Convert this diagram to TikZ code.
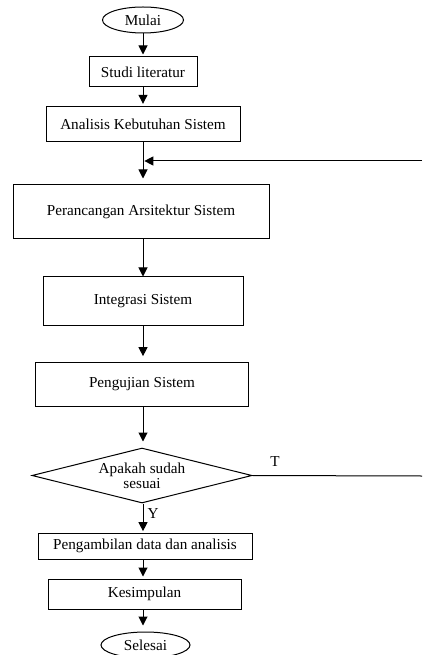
\documentclass[tikz,border=0pt]{standalone}
\usepackage{fontspec}
\setmainfont{Liberation Serif}
\usetikzlibrary{arrows.meta,shapes.geometric}

\tikzset{every picture/.style={line width=0.75pt}}

\begin{document}
\begin{tikzpicture}[x=0.75pt,y=0.75pt,yscale=-1,xscale=1,
	font=\fontsize{11.4}{11.25}\selectfont,
	proses/.style={draw, rectangle, inner sep=0pt, align=center},
	terminal/.style={draw, ellipse, inner sep=0pt},
	keputusan/.style={draw, diamond, aspect=4, inner sep=0pt, align=center},
	panah/.style={-{Triangle[width=6.75pt,length=6.75pt]}}]
	%uncomment if require: \path (0,655); %set diagram left start at 0, and has height of 655
	\useasboundingbox (0,0) rectangle (422,655);
	
	%Flowchart: Terminator [id:mulai] 
	\node [terminal, minimum width=60.75pt, minimum height=19.5pt] (mulai) at (143,20) {Mulai};
	%Flowchart: Process [id:studi] 
	\node [proses, minimum width=81pt, minimum height=22.5pt] (studi) at (143,72) {Studi literatur};
	%Flowchart: Process [id:analisis] 
	\node [proses, minimum width=145.5pt, minimum height=26.25pt] (analisis) at (143,124.5) {Analisis Kebutuhan Sistem};
	%Flowchart: Process [id:perancangan] 
	\node [proses, minimum width=192pt, minimum height=40.5pt] (perancangan) at (141,212) {Perancangan Arsitektur Sistem};
	%Flowchart: Process [id:integrasi] 
	\node [proses, minimum width=150pt, minimum height=36pt] (integrasi) at (143,301) {Integrasi Sistem};
	%Flowchart: Process [id:pengujian] 
	\node [proses, minimum width=159.75pt, minimum height=33pt] (pengujian) at (142,384) {Pengujian Sistem};
	%Flowchart: Decision [id:sesuai] 
	\node [keputusan, minimum width=165pt, minimum height=41.25pt] (sesuai) at (142,475.5) {Apakah sudah\\sesuai};
	%Flowchart: Process [id:pengambilan] 
	\node [proses, minimum width=160.5pt, minimum height=19.5pt] (pengambilan) at (145,546) {Pengambilan data dan analisis};
	%Flowchart: Process [id:kesimpulan] 
	\node [proses, minimum width=144.75pt, minimum height=22.5pt] (kesimpulan) at (144.5,594) {Kesimpulan};
	%Flowchart: Terminator [id:selesai] 
	\node [terminal, minimum width=66.75pt, minimum height=19.5pt] (selesai) at (145.5,645) {Selesai};
	
	%Points of the loop back
	\coordinate (gabung) at (143,161);
	\coordinate (ulangMasuk) at (422,161);
	\coordinate (ulangKeluar) at (422,476);
	
	%Straight Lines 
	\draw [panah, shorten >=1.5pt] (mulai.south -| gabung) -- (studi.north -| gabung);
	%Straight Lines 
	\draw [panah, shorten >=2pt] (studi.south -| gabung) -- (analisis.north -| gabung);
	%Straight Lines 
	\draw (analisis.south -| gabung) -- (gabung);
	%Straight Lines 
	\draw [panah, shorten >=4.5pt] (gabung) -- (perancangan.north -| gabung);
	%Straight Lines 
	\draw [panah, shorten >=1pt] (ulangMasuk) -- (gabung);
	%Straight Lines 
	\draw [panah] (perancangan.south -| gabung) -- (integrasi.north -| gabung);
	%Straight Lines 
	\draw [panah, shorten >=4pt] (integrasi.south -| gabung) -- (pengujian.north -| gabung);
	%Straight Lines 
	\draw [panah, shorten >=4.5pt] (pengujian.south -| gabung) -- (sesuai.north -| gabung);
	%Straight Lines 
	\draw [panah, shorten >=1pt] (sesuai.south -| gabung) -- (pengambilan.north -| gabung);
	%Straight Lines 
	\draw [panah, shorten >=1.5pt] (pengambilan.south -| gabung) -- (kesimpulan.north -| gabung);
	%Straight Lines 
	\draw [panah, shorten >=4.5pt] (kesimpulan.south -| gabung) -- (selesai.north -| gabung);
	%Straight Lines 
	\draw (sesuai.east) -- (ulangKeluar);
	
	% Text Node
	\node (labelT) at (275,462) {T};
	% Text Node
	\node (labelY) at (153,514) {Y};
	
\end{tikzpicture}
\end{document}
